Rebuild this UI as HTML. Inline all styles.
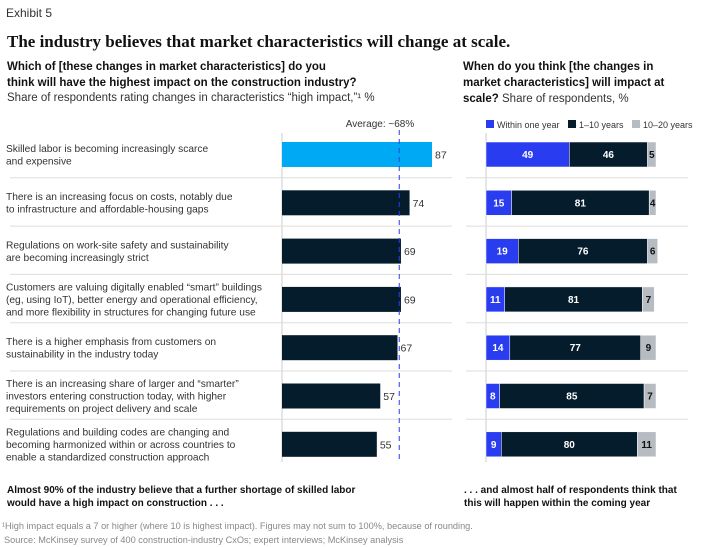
<!DOCTYPE html>
<html><head><meta charset="utf-8"><style>
body{margin:0;background:#fff;width:702px;height:547px;overflow:hidden;font-family:"Liberation Sans",sans-serif;}
svg{display:block}
</style></head><body>
<svg width="702" height="547" font-family="Liberation Sans, sans-serif">
<text x="6" y="17" font-size="12" fill="#333">Exhibit 5</text>
<text x="7" y="47" font-size="17" font-weight="bold" font-family="Liberation Serif, serif" fill="#111">The industry believes that market characteristics will change at scale.</text>
<text x="7" y="70" font-size="11.5" font-weight="bold" fill="#111"><tspan x="7">Which of [these changes in market characteristics] do you</tspan><tspan x="7" dy="16">think will have the highest impact on the construction industry?</tspan></text>
<text x="7" y="101" font-size="11.5" fill="#333">Share of respondents rating changes in characteristics “high impact,”¹ %</text>
<text x="463" y="70" font-size="11.5" font-weight="bold" fill="#111"><tspan x="463">When do you think [the changes in</tspan><tspan x="463" dy="16">market characteristics] will impact at</tspan><tspan x="463" dy="16">scale?<tspan font-weight="normal" fill="#333"> Share of respondents, %</tspan></tspan></text>
<g id="legend">
<rect x="486" y="120" width="8" height="8" fill="#2a3cf0"/>
<text x="497" y="128" font-size="9" fill="#333">Within one year</text>
<rect x="568" y="120" width="8" height="8" fill="#051c2c"/>
<text x="579" y="128" font-size="9" fill="#333">1–10 years</text>
<rect x="632" y="120" width="8" height="8" fill="#b6bcc2"/>
<text x="643" y="128" font-size="9" fill="#333">10–20 years</text>
</g>
<g id="rows"></g>
<text x="7" y="493" font-size="10" font-weight="bold" fill="#111"><tspan x="7">Almost 90% of the industry believe that a further shortage of skilled labor</tspan><tspan x="7" dy="13">would have a high impact on construction . . .</tspan></text>
<text x="464" y="493" font-size="10" font-weight="bold" fill="#111"><tspan x="464">. . . and almost half of respondents think that</tspan><tspan x="464" dy="13">this will happen within the coming year</tspan></text>
<text x="2" y="529" font-size="9.2" fill="#888">¹High impact equals a 7 or higher (where 10 is highest impact). Figures may not sum to 100%, because of rounding.</text>
<text x="4" y="543" font-size="9.2" fill="#888">Source: McKinsey survey of 400 construction-industry CxOs; expert interviews; McKinsey analysis</text>
</svg>
<script>
const categories=[
["Skilled labor is becoming increasingly scarce","and expensive"],
["There is an increasing focus on costs, notably due","to infrastructure and affordable-housing gaps"],
["Regulations on work-site safety and sustainability","are becoming increasingly strict"],
["Customers are valuing digitally enabled “smart” buildings","(eg, using IoT), better energy and operational efficiency,","and more flexibility in structures for changing future use"],
["There is a higher emphasis from customers on","sustainability in the industry today"],
["There is an increasing share of larger and “smarter”","investors entering construction today, with higher","requirements on project delivery and scale"],
["Regulations and building codes are changing and","becoming harmonized within or across countries to","enable a standardized construction approach"]];
const highImpact=[87,74,69,69,67,57,55];
const average=68;
const withinOneYear=[49,15,19,11,14,8,9];
const oneToTen=[46,81,76,81,77,85,80];
const tenToTwenty=[5,4,6,7,9,7,11];

const NS="http://www.w3.org/2000/svg";
const g=document.getElementById('rows');
const xL=v=>282+v*150/87;
const xR=v=>486+v*1.7;
const rowY=i=>142+i*48.3;
function mk(tag,attrs,parent){const e=document.createElementNS(NS,tag);for(const k in attrs)e.setAttribute(k,attrs[k]);(parent||g).appendChild(e);return e;}
function txt(x,y,s,attrs){const t=mk('text',Object.assign({x:x,y:y},attrs));t.textContent=s;return t;}
let a=mk('line',{x1:282,x2:282,y1:133,y2:462,stroke:'#ccc','stroke-width':1});


a=mk('line',{x1:486,x2:486,y1:133,y2:462,stroke:'#ccc','stroke-width':1});


categories.forEach((lines,i)=>{
  const y=rowY(i);
  if(i>0){
    let s=mk('line',{x1:10,x2:452,y1:y-12.5,y2:y-12.5,stroke:'#ddd','stroke-width':1});
    
    
    s=mk('line',{x1:466,x2:688,y1:y-12.5,y2:y-12.5,stroke:'#ddd','stroke-width':1});
    
    
  }
  const cy=y+12.5;
  const lh=12.5;
  const y0=cy-(lines.length-1)*lh/2+3.5;
  lines.forEach((l,k)=>{const t=txt(6,y0+k*lh,l,{'font-size':10.2,fill:'#333'});
    
    });
  const v=highImpact[i];
  const b=mk('rect',{x:282,y:y,width:xL(v)-282,height:25,fill:i==0?'#00a9f4':'#051c2c'});
  
  
  const vt=txt(xL(v)+3,cy+4,String(v),{'font-size':10.5,fill:'#333'});
  
  
  const segs=[[withinOneYear[i],'#2a3cf0','#fff'],[oneToTen[i],'#051c2c','#fff'],[tenToTwenty[i],'#b6bcc2','#111']];
  let acc=0;
  segs.forEach(([val,col,tc],j)=>{
    const x0=xR(acc),x1=xR(acc+val);
    const r=mk('rect',{x:x0,y:y,width:x1-x0,height:25,fill:col,stroke:'#fff','stroke-width':0.5});
    
    
    const t=txt((x0+x1)/2,cy+3.5,String(val),{'font-size':10,'font-weight':'bold',fill:tc,'text-anchor':'middle'});
    
    
    acc+=val;
  });
});
let av=mk('line',{x1:xL(average),x2:xL(average),y1:130,y2:462,stroke:'#2a3cf0','stroke-width':1,'stroke-dasharray':'5,4'});


let at=txt(xL(average)+15,127,'Average: ~'+average+'%',{'font-size':10,fill:'#333','text-anchor':'end'});


</script>
</body></html>
